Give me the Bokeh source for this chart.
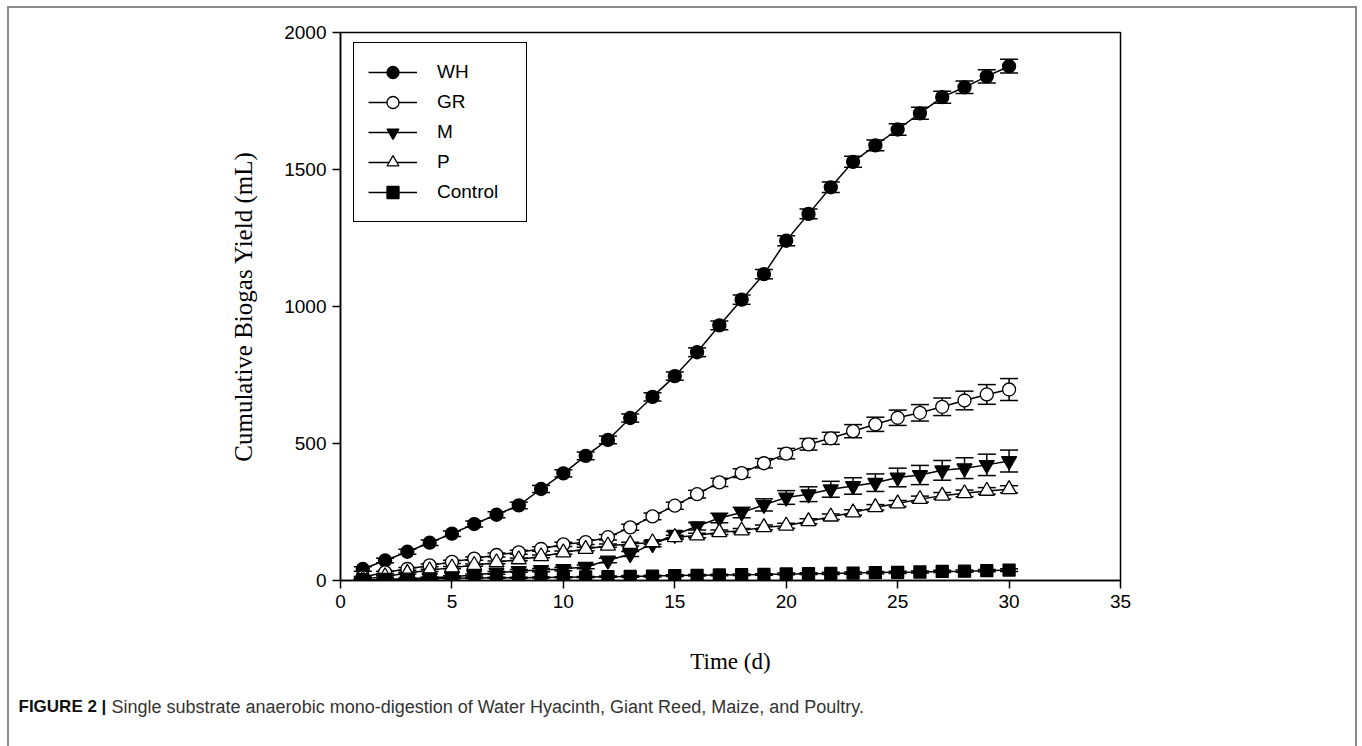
from bokeh.plotting import figure
from bokeh.models import (ColumnDataSource, Whisker, TeeHead, Legend, LegendItem,
                          Label, FixedTicker, Range1d)
from bokeh.embed import file_html
from bokeh.resources import INLINE

# Cumulative biogas yield (mL) per day, mean and standard error
days = list(range(1, 31))

wh = [42, 73, 105, 138, 171, 206, 240, 274, 334, 391, 455, 513, 593, 670, 746,
      833, 931, 1025, 1118, 1240, 1338, 1435, 1528, 1588, 1646, 1705, 1764, 1800, 1840, 1877]
wh_err = [8, 8, 9, 10, 10, 11, 11, 12, 13, 13, 14, 14, 15, 15, 15,
          16, 16, 17, 17, 18, 18, 19, 20, 20, 21, 22, 22, 23, 24, 25]

gr = [12, 30, 42, 55, 68, 80, 93, 103, 115, 132, 140, 158, 194, 234, 273,
      315, 358, 392, 428, 463, 497, 519, 545, 570, 594, 612, 634, 657, 679, 697]
gr_err = [3, 4, 5, 5, 6, 6, 7, 7, 8, 8, 9, 10, 11, 12, 13,
          14, 15, 16, 17, 19, 21, 22, 24, 26, 28, 30, 32, 34, 36, 40]

m = [0, 3, 6, 10, 14, 20, 28, 35, 38, 42, 50, 73, 97, 133, 167,
     198, 228, 248, 276, 303, 315, 333, 345, 357, 376, 385, 402, 410, 422, 436]
m_err = [2, 2, 3, 3, 3, 4, 5, 5, 6, 6, 7, 8, 9, 10, 12,
         14, 17, 19, 22, 25, 27, 29, 30, 32, 34, 35, 36, 38, 39, 40]

pou = [5, 15, 27, 37, 47, 56, 66, 77, 88, 102, 115, 127, 133, 139, 158,
       164, 176, 182, 194, 200, 216, 233, 248, 267, 281, 297, 309, 318, 327, 333]
pou_err = [2, 3, 3, 4, 4, 4, 5, 5, 5, 6, 6, 6, 7, 7, 7,
           8, 8, 8, 9, 9, 9, 10, 10, 10, 11, 11, 12, 12, 12, 13]

ctrl = [3, 4, 5, 6, 8, 9, 10, 10, 11, 12, 13, 14, 15, 16, 18,
        19, 20, 21, 22, 24, 25, 26, 27, 29, 30, 31, 33, 34, 36, 38]
ctrl_err = [1, 1, 1, 1, 2, 2, 2, 2, 2, 2, 2, 2, 3, 3, 3,
            3, 3, 3, 3, 3, 3, 4, 4, 4, 4, 4, 4, 4, 4, 5]

x_ticks = [0, 5, 10, 15, 20, 25, 30, 35]
y_ticks = [0, 500, 1000, 1500, 2000]

series = [
    # name, values, errors, marker, fill, size
    ("WH", wh, wh_err, "circle", "black", 13),
    ("GR", gr, gr_err, "circle", "white", 13),
    ("M", m, m_err, "inverted_triangle", "black", 15),
    ("P", pou, pou_err, "triangle", "white", 15),
    ("Control", ctrl, ctrl_err, "square", "black", 12),
]

SANS = "Liberation Sans"
SERIF = "Liberation Serif"

# Grey page frame painted behind the transparent plot borders
EDGE = "linear-gradient(#8a8a8a, #8a8a8a)"
main_bg = (f"{EDGE} 7px 6px / 2px calc(100% - 6px) no-repeat, "
           f"{EDGE} 1355px 6px / 2px calc(100% - 6px) no-repeat, "
           f"{EDGE} 7px 6px / 1350px 2px no-repeat, white")
cap_bg = (f"{EDGE} 7px 0 / 2px 100% no-repeat, "
          f"{EDGE} 1355px 0 / 2px 100% no-repeat, white")

p = figure(width=1362, height=690, output_backend="svg", toolbar_location=None,
           x_range=Range1d(0, 35), y_range=Range1d(0, 2000),
           min_border_left=340, min_border_right=242,
           min_border_top=32, min_border_bottom=110)
p.styles = {"background": main_bg}

p.xgrid.visible = False
p.ygrid.visible = False
p.outline_line_color = "black"
p.outline_line_width = 1.5
p.background_fill_color = "white"
p.border_fill_color = None

for ax in (p.xaxis[0], p.yaxis[0]):
    ax.axis_line_color = "black"
    ax.axis_line_width = 1.5
    ax.major_tick_line_color = "black"
    ax.major_tick_line_width = 1.5
    ax.major_tick_out = 8
    ax.major_tick_in = 0
    ax.minor_tick_line_color = None
    ax.major_label_text_font = SANS
    ax.major_label_text_font_size = "19px"
    ax.major_label_text_color = "black"
    ax.axis_label_text_font = SERIF
    ax.axis_label_text_font_style = "normal"
    ax.axis_label_text_color = "black"

p.xaxis.ticker = FixedTicker(ticks=x_ticks)
p.yaxis.ticker = FixedTicker(ticks=y_ticks)
p.xaxis.major_label_standoff = 6
p.yaxis.major_label_standoff = 6
p.xaxis.axis_label = "Time (d)"
p.xaxis.axis_label_text_font_size = "23px"
p.xaxis.axis_label_standoff = 38
p.yaxis.axis_label = "Cumulative Biogas Yield (mL)"
p.yaxis.axis_label_text_font_size = "25px"
p.yaxis.axis_label_standoff = 24

items = []
for name, vals, errs, marker, fill, size in series:
    src = ColumnDataSource(dict(
        x=days, y=vals,
        lo=[v - e for v, e in zip(vals, errs)],
        hi=[v + e for v, e in zip(vals, errs)],
    ))
    wk = Whisker(source=src, base="x", upper="hi", lower="lo",
                 line_color="black", line_width=1.5, level="underlay",
                 upper_head=TeeHead(size=18, line_color="black", line_width=1.5),
                 lower_head=TeeHead(size=18, line_color="black", line_width=1.5))
    p.add_layout(wk)
    ln = p.line("x", "y", source=src, line_color="black", line_width=1.5)
    sc = p.scatter("x", "y", source=src, marker=marker, size=size,
                   fill_color=fill, line_color="black", line_width=1.3)
    items.append(LegendItem(label=name, renderers=[ln, sc]))

legend = Legend(items=items, location=(13, 358), margin=0,
                padding=14, spacing=0, glyph_width=49, glyph_height=30,
                label_height=30, label_width=75, label_standoff=20,
                label_text_font=SANS, label_text_font_size="19px",
                label_text_color="black",
                border_line_color="black", border_line_width=1.5, border_line_alpha=1,
                background_fill_color="white", background_fill_alpha=1)
p.add_layout(legend)

# Caption strip under the chart, laid out in pixel coordinates
cap = figure(width=1362, height=56, output_backend="svg", toolbar_location=None,
             x_range=Range1d(0, 1362), y_range=Range1d(56, 0),
             x_axis_type=None, y_axis_type=None, min_border=0)
cap.styles = {"background": cap_bg}
cap.outline_line_color = None
cap.background_fill_color = None
cap.border_fill_color = None

cap.add_layout(Label(x=18, y=16, text="FIGURE 2 |", text_font=SANS,
                     text_font_style="bold", text_font_size="17px",
                     text_color="#111111", text_baseline="middle"))
cap.add_layout(Label(x=111, y=16,
                     text="Single substrate anaerobic mono-digestion of Water Hyacinth, Giant Reed, Maize, and Poultry.",
                     text_font=SANS, text_font_size="18px",
                     text_color="#333333", text_baseline="middle"))

# Two independent roots stacked on the page, so the caption strip keeps its full-width frame
open("out.html", "w").write(file_html([p, cap], INLINE))
